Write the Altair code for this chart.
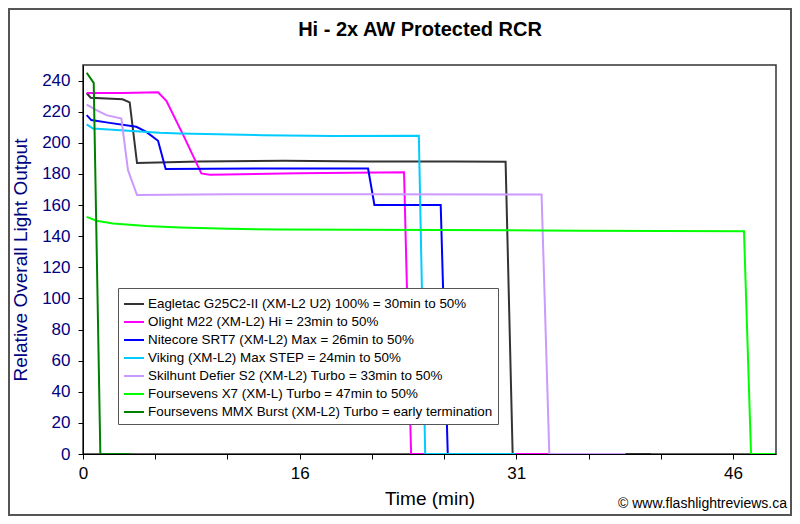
import altair as alt
import pandas as pd

FONT = "Liberation Sans"

TITLE = "Hi - 2x AW Protected RCR"
Y_TITLE = "Relative Overall Light Output"
X_TITLE = "Time (min)"
CREDIT = "© www.flashlightreviews.ca"

SERIES = [
    "Eagletac G25C2-II (XM-L2 U2) 100% = 30min to 50%",
    "Olight M22 (XM-L2) Hi = 23min to 50%",
    "Nitecore SRT7 (XM-L2) Max = 26min to 50%",
    "Viking  (XM-L2) Max STEP = 24min to 50%",
    "Skilhunt Defier S2 (XM-L2) Turbo = 33min to 50%",
    "Foursevens X7 (XM-L) Turbo = 47min to 50%",
    "Foursevens MMX Burst (XM-L2) Turbo = early termination",
]
COLORS = ["#333333", "#FF00FF", "#0000FF", "#00CCFF", "#CC99FF", "#00FF00", "#008000"]

EAGLETAC_T = [0, 0.28, 2.55, 3.05, 3.57, 8, 14, 20, 26, 29.7, 30.2, 40]
EAGLETAC_Y = [232, 229, 228, 226, 187, 188, 188.5, 188, 188, 187.8, 0, 0]

OLIGHT_T = [0, 2.5, 5.06, 5.65, 6.9, 8.13, 8.72, 15, 22.5, 23.0, 34]
OLIGHT_Y = [232, 232, 232.5, 227, 204, 180.3, 179.4, 180.5, 181, 0, 0]

NITECORE_T = [0, 0.33, 1.63, 3.52, 4.23, 5.06, 5.6, 12, 19.95, 20.4, 25.1, 25.6, 30]
NITECORE_Y = [217.8, 214.6, 212.8, 210.3, 207, 201.3, 183.1, 183.5, 183.5, 160, 160, 0, 0]

VIKING_T = [0, 0.45, 5.17, 6.6, 12.5, 17.5, 23.55, 24.0, 30.4]
VIKING_Y = [211.8, 209.2, 206.4, 206, 204.9, 204.3, 204.6, 0, 0]

SKILHUNT_T = [0, 0.69, 1.4, 2.46, 2.93, 3.57, 10, 20, 32.25, 32.8, 38.2]
SKILHUNT_Y = [224.6, 221, 217.8, 215.6, 182.4, 166.4, 167, 167, 166.8, 0, 0]

X7_T = [0, 0.69, 1.87, 4.23, 6.6, 10.1, 13.7, 25, 35, 46.6, 47.1, 48.8]
X7_Y = [152.4, 149.9, 148.2, 146.5, 145.6, 144.7, 144.3, 144, 143.5, 143.2, 0, 0]

MMX_T = [0, 0.5, 0.97, 3.1]
MMX_Y = [245, 238.5, 0, 0]

X_TICKS = [-0.26, 4.86, 9.98, 15.1, 20.22, 25.34, 30.46, 35.58, 40.7, 45.82]
X_TICK_LABELS = ["0", "", "", "16", "", "", "31", "", "", "46"]
Y_TICKS = [0, 20, 40, 60, 80, 100, 120, 140, 160, 180, 200, 220, 240]

ALL_T = [EAGLETAC_T, OLIGHT_T, NITECORE_T, VIKING_T, SKILHUNT_T, X7_T, MMX_T]
ALL_Y = [EAGLETAC_Y, OLIGHT_Y, NITECORE_Y, VIKING_Y, SKILHUNT_Y, X7_Y, MMX_Y]

rows = []
for s, ts, ys in zip(SERIES, ALL_T, ALL_Y):
    for i, (t, y) in enumerate(zip(ts, ys)):
        rows.append({"series": s, "t": t, "y": y, "i": i})
df = pd.DataFrame(rows)

label_expr = " : ".join(
    f"abs(datum.value - ({v})) < 0.5 ? '{l}'" for v, l in zip(X_TICKS, X_TICK_LABELS) if l
) + " : ''"

W, H = 693, 389
PAD = {"left": 75, "top": 57, "right": 16, "bottom": 62}

lines = alt.Chart(df).mark_line(strokeWidth=2, clip=True).encode(
    x=alt.X("t:Q", scale=alt.Scale(domain=[-0.26, 48.87], nice=False, zero=False),
            axis=alt.Axis(values=X_TICKS, labelExpr=label_expr, title=X_TITLE,
                          grid=False, tickSize=5, labelPadding=6,
                          labelFontSize=17, titleFontSize=19, titleFontWeight="normal",
                          titlePadding=8, labelColor="black", titleColor="black",
                          domainColor="black", tickColor="black", labelFlush=False)),
    y=alt.Y("y:Q", scale=alt.Scale(domain=[0, 250], nice=False),
            axis=alt.Axis(values=Y_TICKS, title=Y_TITLE, grid=False, tickSize=5,
                          labelPadding=8, labelFontSize=17, titleFontSize=19,
                          titleFontWeight="normal", titlePadding=11,
                          labelColor="#000080", titleColor="#000080",
                          domainColor="black", tickColor="black")),
    color=alt.Color("series:N", sort=SERIES,
                    scale=alt.Scale(domain=SERIES, range=COLORS),
                    legend=alt.Legend(title=None, orient="none", legendX=35, legendY=223,
                                      symbolType="stroke", symbolSize=400,
                                      symbolStrokeWidth=2, labelFontSize=13.4,
                                      labelFont=FONT, fillColor="white",
                                      strokeColor="#555555", padding=5,
                                      rowPadding=-1.6, labelLimit=600, labelOffset=3)),
    order="i:Q",
    detail="series:N",
)

title = alt.Chart(pd.DataFrame({"txt": [TITLE]})).mark_text(
    fontSize=20, fontWeight="bold", font=FONT, align="center", baseline="middle"
).encode(text="txt:N", x=alt.value(337), y=alt.value(-35))

credit = alt.Chart(pd.DataFrame({"txt": [CREDIT]})).mark_text(
    fontSize=14, font=FONT, align="right", baseline="alphabetic"
).encode(text="txt:N", x=alt.value(704), y=alt.value(443))

border = alt.Chart(pd.DataFrame({"a": [0]})).mark_rect(
    filled=False, stroke="#555555", strokeWidth=2
).encode(x=alt.value(-74), x2=alt.value(708), y=alt.value(-56), y2=alt.value(450))

chart = alt.layer(lines, title, credit, border).properties(
    width=W, height=H, padding=PAD,
    autosize=alt.AutoSizeParams(type="none"),
    background="white",
).configure(font=FONT).configure_view(stroke="#333333", strokeWidth=1.5)

chart.save("out.html", embed_options={"renderer": "svg", "actions": False})
